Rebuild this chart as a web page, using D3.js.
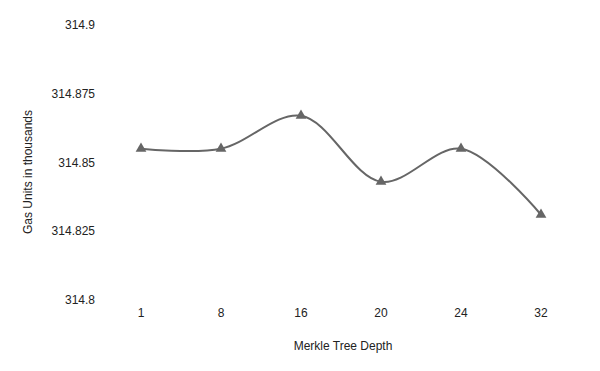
<!DOCTYPE html>
<html>
<head>
<meta charset="utf-8">
<script src="https://cdn.jsdelivr.net/npm/d3@7"></script>
<style>
  body { margin: 0; background: #fff; }
  text { font-family: Arial, "Liberation Sans", sans-serif; font-size: 12px; fill: #222; }
</style>
</head>
<body>
<svg width="600" height="371"></svg>
<script>
// merkle tree depths and gas (thousands)
const depths = ['1', '8', '16', '20', '24', '32'];
const gasValues = [314.855, 314.855, 314.867, 314.843, 314.855, 314.831];
const yTicks = [314.8, 314.825, 314.85, 314.875, 314.9];

const svg = d3.select('svg');

const x = d3.scalePoint()
    .domain(depths)
    .range([101, 581])
    .padding(0.5);

const y = d3.scaleLinear()
    .domain([314.8, 314.9])
    .range([300, 25]);

// y tick labels, no axis line
svg.append('g')
    .selectAll('text')
    .data(yTicks)
    .enter().append('text')
    .attr('x', 95)
    .attr('y', d => y(d))
    .attr('dy', '0.35em')
    .attr('text-anchor', 'end')
    .text(d => d3.format('')(d));

// x tick labels
svg.append('g')
    .selectAll('text')
    .data(depths)
    .enter().append('text')
    .attr('x', d => x(d))
    .attr('y', 313)
    .attr('dy', '0.35em')
    .attr('text-anchor', 'middle')
    .text(d => d);

const line = d3.line()
    .x((d, i) => x(depths[i]))
    .y(d => y(d))
    .curve(d3.curveCatmullRom);

svg.append('path')
    .datum(gasValues)
    .attr('fill', 'none')
    .attr('stroke', '#666')
    .attr('stroke-width', 2)
    .attr('d', line);

svg.append('g')
    .selectAll('path')
    .data(gasValues)
    .enter().append('path')
    .attr('transform', (d, i) => `translate(${x(depths[i])},${y(d)})`)
    .attr('d', d3.symbol().type(d3.symbolTriangle).size(50))
    .attr('fill', '#666');

svg.append('text')
    .attr('x', 343)
    .attr('y', 346)
    .attr('dy', '0.35em')
    .attr('text-anchor', 'middle')
    .text('Merkle Tree Depth');

svg.append('text')
    .attr('transform', 'translate(28,172) rotate(-90)')
    .attr('dy', '0.35em')
    .attr('text-anchor', 'middle')
    .text('Gas Units in thousands');
</script>
</body>
</html>
